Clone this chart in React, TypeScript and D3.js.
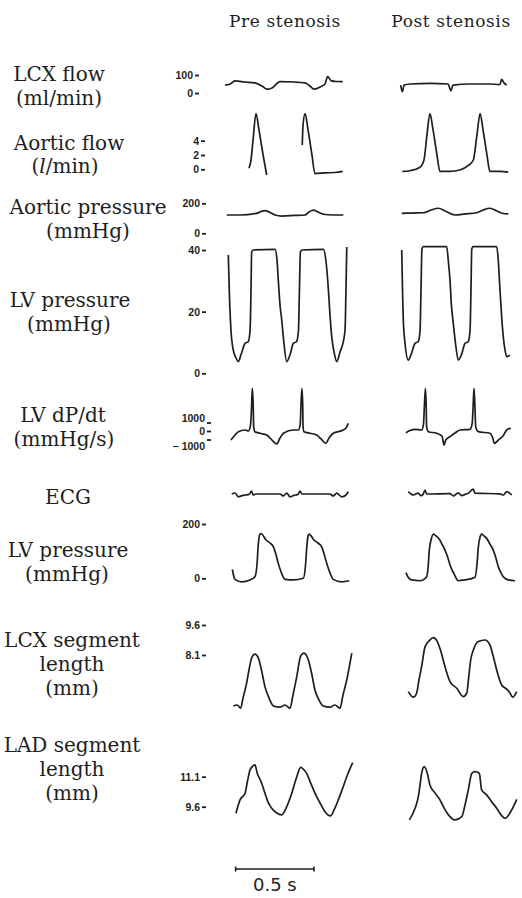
import React, { useEffect, useRef } from "react";
import * as d3 from "d3";

type Pt = [number, number];

// time (s) , value
const lcxFlowPre: Pt[] = [[0, 44], [0.026, 47], [0.064, 67], [0.128, 61], [0.191, 56], [0.236, 39], [0.268, 21], [0.3, 28], [0.351, 63], [0.447, 61], [0.511, 56], [0.542, 39], [0.568, 21], [0.606, 33], [0.638, 50], [0.655, 91], [0.677, 69], [0.708, 64], [0.751, 63]];
const lcxFlowPost: Pt[] = [[0.004, 44], [0.015, 7], [0.026, 44], [0.064, 50], [0.191, 53], [0.306, 50], [0.325, 13], [0.338, 44], [0.447, 50], [0.574, 50], [0.638, 47], [0.649, 76], [0.664, 56], [0.681, 44]];
const lcxFlowTicks = [0, 100];

const aoFlowPre: Pt[] = [[0.153, 0.14], [0.166, 1.3], [0.179, 4.1], [0.198, 7.8], [0.217, 5.5], [0.243, 2.0], [0.266, -0.8], [0.4, NaN], [0.493, 3.4], [0.498, 6.2], [0.511, 7.8], [0.53, 5.5], [0.555, 2.0], [0.574, -0.6], [0.638, -0.5], [0.702, -0.45], [0.751, -0.3]];
const aoFlowPost: Pt[] = [[0.015, -0.3], [0.064, -0.2], [0.128, 0.3], [0.153, 1.3], [0.172, 4.8], [0.191, 7.8], [0.211, 5.5], [0.236, 2.0], [0.255, -0.3], [0.319, -0.3], [0.383, -0.1], [0.434, 0.5], [0.468, 1.3], [0.491, 4.8], [0.511, 7.8], [0.53, 5.5], [0.555, 2.0], [0.574, -0.3], [0.638, -0.3], [0.691, -0.4]];
const aoFlowTicks = [0, 2, 4];

const aoPressPre: Pt[] = [[0.011, 122], [0.096, 122], [0.202, 133], [0.23, 145], [0.255, 151], [0.287, 139], [0.319, 122], [0.362, 115], [0.447, 119], [0.511, 122], [0.536, 142], [0.564, 155], [0.593, 142], [0.627, 127], [0.689, 122], [0.755, 122]];
const aoPressPost: Pt[] = [[0.011, 133], [0.077, 135], [0.149, 137], [0.198, 155], [0.245, 167], [0.287, 149], [0.351, 122], [0.415, 129], [0.489, 137], [0.53, 155], [0.574, 167], [0.619, 149], [0.657, 132], [0.691, 129]];
const aoPressTicks = [0, 200];

const lvpHiPre: Pt[] = [[0.021, 38.4], [0.029, 24], [0.038, 14], [0.053, 7.5], [0.07, 5], [0.085, 3.8], [0.102, 6.0], [0.128, 9.7], [0.149, 10.3], [0.16, 14.0], [0.166, 27.0], [0.17, 39.3], [0.179, 40.0], [0.319, 40.2], [0.332, 36.7], [0.34, 30.3], [0.351, 22.2], [0.362, 17.3], [0.373, 11.4], [0.394, 3.8], [0.415, 6.0], [0.436, 9.7], [0.457, 10.3], [0.469, 14.0], [0.475, 27.0], [0.481, 39.3], [0.491, 40.0], [0.628, 40.2], [0.645, 36.1], [0.66, 27.0], [0.67, 18.9], [0.681, 11.9], [0.696, 6.9], [0.713, 3.8], [0.734, 6.9], [0.755, 10.3], [0.766, 14.0], [0.772, 27.0], [0.777, 41.0]];
const lvpHiPost: Pt[] = [[0.011, 40.0], [0.016, 27.0], [0.021, 17.3], [0.032, 9.8], [0.053, 4.3], [0.07, 6.0], [0.096, 9.7], [0.117, 10.3], [0.128, 14.0], [0.134, 27.0], [0.14, 40.3], [0.149, 41.1], [0.298, 41.1], [0.309, 36.1], [0.319, 30.3], [0.328, 22.2], [0.34, 16.2], [0.354, 9.8], [0.372, 4.3], [0.392, 6.0], [0.415, 9.7], [0.436, 10.3], [0.447, 14.0], [0.453, 27.0], [0.458, 40.3], [0.466, 41.1], [0.617, 41.1], [0.628, 36.1], [0.638, 27.0], [0.648, 18.9], [0.659, 11.9], [0.67, 7.6], [0.681, 5.4], [0.702, 5.9]];
const lvpHiTicks = [0, 20, 40];

const dpdtPre: Pt[] = [[0.038, -1060], [0.064, -470], [0.085, -80], [0.128, 120], [0.149, 0], [0.163, 700], [0.17, 3060], [0.174, 5020], [0.18, 3060], [0.183, 510], [0.191, -80], [0.223, -270], [0.266, -470], [0.3, -1060], [0.33, -1530], [0.351, -820], [0.373, -270], [0.436, 120], [0.468, 120], [0.48, 820], [0.485, 3060], [0.491, 5020], [0.496, 3060], [0.498, 510], [0.504, -80], [0.543, -270], [0.585, -470], [0.613, -940], [0.643, -1450], [0.664, -820], [0.691, -270], [0.755, 120], [0.772, 350], [0.787, 900]];
const dpdtPost: Pt[] = [[0.038, -200], [0.064, 60], [0.096, 200], [0.138, 120], [0.15, 820], [0.156, 3060], [0.162, 5020], [0.167, 3060], [0.17, 510], [0.181, -80], [0.234, -270], [0.268, -590], [0.281, -1650], [0.292, -1060], [0.319, -670], [0.351, -240], [0.383, 120], [0.447, 200], [0.461, 940], [0.467, 3060], [0.472, 5020], [0.478, 3060], [0.483, 510], [0.5, -80], [0.574, -270], [0.59, -710], [0.602, -1450], [0.628, -1060], [0.657, -590], [0.681, 120], [0.708, 320]];
const dpdtTicks = [-1000, 0, 1000];

const ecgPre: Pt[] = [[0.043, 0], [0.064, 0.25], [0.085, -0.7], [0.109, -0.4], [0.128, -0.25], [0.153, -0.1], [0.17, 0.7], [0.179, -0.25], [0.198, 0], [0.351, 0], [0.373, -0.5], [0.394, 0.2], [0.415, -0.7], [0.447, -0.25], [0.466, -0.1], [0.479, 0.75], [0.491, 0], [0.67, 0], [0.691, -0.5], [0.713, 0.2], [0.745, -0.7], [0.772, -0.25], [0.787, 0.6]];
const ecgPost: Pt[] = [[0.053, 0.6], [0.085, -0.25], [0.117, 0.2], [0.134, -0.4], [0.147, -0.1], [0.16, 1.0], [0.17, 0], [0.319, 0.1], [0.34, -0.5], [0.372, 0.3], [0.394, -0.4], [0.421, 0], [0.436, 0.2], [0.468, 1.2], [0.479, 0.2], [0.638, 0.05], [0.66, -0.25], [0.681, 0.6], [0.713, -0.25]];

const lvpPre: Pt[] = [[0.047, 33], [0.054, 12], [0.064, -4], [0.107, -13], [0.16, -6], [0.191, 6], [0.204, 49], [0.213, 129], [0.223, 163], [0.23, 165], [0.262, 141], [0.287, 130], [0.309, 116], [0.326, 86], [0.34, 55], [0.358, 23], [0.383, -4], [0.436, -6], [0.5, 0], [0.514, 49], [0.522, 116], [0.53, 156], [0.536, 163], [0.568, 141], [0.593, 130], [0.617, 116], [0.632, 90], [0.649, 55], [0.67, 20], [0.691, -4], [0.745, -13], [0.793, -9]];
const lvpPost: Pt[] = [[0.038, 21], [0.051, 5], [0.075, -6], [0.128, -9], [0.17, 6], [0.179, 38], [0.187, 104], [0.198, 141], [0.213, 163], [0.23, 156], [0.251, 144], [0.268, 126], [0.287, 104], [0.306, 75], [0.319, 49], [0.345, 16], [0.372, -9], [0.415, -6], [0.479, 4], [0.491, 49], [0.5, 116], [0.511, 152], [0.521, 163], [0.536, 156], [0.553, 147], [0.574, 126], [0.595, 104], [0.612, 75], [0.627, 43], [0.644, 21], [0.659, 6], [0.691, -6], [0.734, -9]];
const lvpTicks = [0, 200];

const lcxLenPre: Pt[] = [[0.053, 5.55], [0.078, 5.6], [0.1, 5.44], [0.115, 5.95], [0.138, 6.69], [0.153, 7.35], [0.17, 7.95], [0.191, 8.14], [0.213, 7.94], [0.23, 7.45], [0.255, 6.52], [0.281, 5.95], [0.309, 5.55], [0.351, 5.49], [0.383, 5.6], [0.415, 5.44], [0.434, 6.1], [0.458, 7.02], [0.483, 8.05], [0.504, 8.19], [0.532, 7.85], [0.555, 7.1], [0.574, 6.35], [0.6, 5.85], [0.627, 5.55], [0.67, 5.49], [0.702, 5.6], [0.734, 5.44], [0.753, 6.1], [0.777, 6.85], [0.809, 8.19]];
const lcxLenPost: Pt[] = [[0.053, 6.27], [0.085, 5.99], [0.106, 6.19], [0.121, 6.85], [0.138, 7.52], [0.16, 8.52], [0.187, 8.82], [0.213, 8.97], [0.238, 8.77], [0.262, 8.25], [0.287, 7.52], [0.319, 6.77], [0.362, 6.44], [0.404, 6.02], [0.426, 6.19], [0.44, 7.1], [0.451, 7.85], [0.468, 8.35], [0.5, 8.77], [0.542, 8.85], [0.574, 8.6], [0.593, 8.1], [0.617, 7.35], [0.649, 6.6], [0.681, 6.39], [0.702, 6.2], [0.719, 5.99], [0.745, 6.27]];
const lcxLenTicks = [8.1, 9.6];

const ladLenPre: Pt[] = [[0.07, 9.27], [0.096, 9.94], [0.128, 10.27], [0.145, 10.94], [0.16, 11.44], [0.179, 11.64], [0.191, 11.69], [0.206, 11.27], [0.234, 10.77], [0.255, 10.27], [0.274, 9.84], [0.298, 9.52], [0.326, 9.31], [0.362, 9.19], [0.394, 9.6], [0.426, 10.27], [0.458, 11.1], [0.483, 11.57], [0.498, 11.49], [0.521, 11.27], [0.549, 10.74], [0.585, 10.1], [0.613, 9.69], [0.638, 9.35], [0.674, 9.14], [0.696, 9.44], [0.723, 9.94], [0.747, 10.44], [0.777, 11.1], [0.815, 11.8]];
const ladLenPost: Pt[] = [[0.06, 8.94], [0.096, 9.52], [0.117, 10.1], [0.128, 10.69], [0.138, 11.27], [0.155, 11.6], [0.174, 11.27], [0.191, 10.69], [0.223, 10.29], [0.255, 9.94], [0.281, 9.54], [0.309, 9.19], [0.351, 8.94], [0.394, 9.1], [0.415, 9.69], [0.436, 10.44], [0.458, 11.27], [0.479, 11.35], [0.506, 11.27], [0.521, 10.44], [0.553, 10.19], [0.581, 9.89], [0.617, 9.52], [0.645, 9.19], [0.67, 9.02], [0.713, 9.44], [0.745, 9.97]];
const ladLenTicks = [9.6, 11.1];

const columnTitles = ["Pre stenosis", "Post stenosis"];
const scaleBarSeconds = 0.5;

const INK = "#1e1e1e";

const rows = [
  { label: ["LCX flow", "(ml/min)"], lx: [59, 59], ly: 81, lh: 23.5, domain: [0, 100], range: [93, 75], ticks: lcxFlowTicks, pre: lcxFlowPre, post: lcxFlowPost, axisX: 199 },
  { label: ["Aortic flow", "(l/min)"], lx: [69, 65], ly: 149.5, lh: 23, domain: [0, 4], range: [169.3, 140.7], ticks: aoFlowTicks, pre: aoFlowPre, post: aoFlowPost, axisX: 205 },
  { label: ["Aortic pressure", "(mmHg)"], lx: [88, 88], ly: 214, lh: 24, domain: [0, 200], range: [233.3, 203.3], ticks: aoPressTicks, pre: aoPressPre, post: aoPressPost },
  { label: ["LV pressure", "(mmHg)"], lx: [70, 69], ly: 307, lh: 23.5, domain: [0, 40], range: [373.3, 250], ticks: lvpHiTicks, pre: lvpHiPre, post: lvpHiPost },
  { label: ["LV dP/dt", "(mmHg/s)"], lx: [63, 64], ly: 421.5, lh: 24.5, domain: [-1000, 1000], range: [439.5, 422.5], ticks: dpdtTicks, pre: dpdtPre, post: dpdtPost, axisX: 211 },
  { label: ["ECG"], lx: [68], ly: 504, lh: 24, domain: [-2, 2], range: [502, 486], ticks: [] as number[], pre: ecgPre, post: ecgPost },
  { label: ["LV pressure", "(mmHg)"], lx: [68, 67], ly: 556.5, lh: 24, domain: [0, 200], range: [578.3, 524], ticks: lvpTicks, pre: lvpPre, post: lvpPost },
  { label: ["LCX segment", "length", "(mm)"], lx: [72, 72, 72], ly: 647, lh: 24, domain: [8.1, 9.6], range: [655, 625], ticks: lcxLenTicks, pre: lcxLenPre, post: lcxLenPost },
  { label: ["LAD segment", "length", "(mm)"], lx: [72, 72, 72], ly: 752, lh: 24, domain: [9.6, 11.1], range: [806.7, 776.7], ticks: ladLenTicks, pre: ladLenPre, post: ladLenPost },
];

const fmt = (d: number) => (d < 0 ? "\u2212 " + Math.abs(d) : String(d));

export default function App() {
  const ref = useRef<SVGSVGElement>(null);

  useEffect(() => {
    const svg = d3.select(ref.current);
    svg.selectAll("*").remove();

    // 156.7 px per second in both panels
    const xPre = d3.scaleLinear().domain([0, 1]).range([225, 381.7]);
    const xPost = d3.scaleLinear().domain([0, 1]).range([400, 556.7]);

    // column headers
    svg.selectAll("text.title")
      .data(columnTitles)
      .enter()
      .append("text")
      .attr("class", "title")
      .attr("x", (d, i) => (i === 0 ? 285 : 451))
      .attr("y", 27)
      .attr("text-anchor", "middle")
      .style("font-family", "DejaVu Serif")
      .style("font-size", "17px")
      .style("letter-spacing", "0.6px")
      .attr("fill", INK)
      .text(d => d);

    rows.forEach(row => {
      const y = d3.scaleLinear().domain(row.domain).range(row.range);
      const g = svg.append("g");

      // left label
      row.label.forEach((line, i) => {
        const t = g.append("text")
          .attr("x", row.lx[i])
          .attr("y", row.ly + i * row.lh)
          .attr("text-anchor", "middle")
          .style("font-family", "DejaVu Serif")
          .style("font-size", "20px")
          .attr("fill", INK);
        if (line === "(l/min)") {
          t.append("tspan").text("(");
          t.append("tspan").style("font-style", "italic").text("l");
          t.append("tspan").text("/min)");
        } else {
          t.text(line);
        }
      });

      // axis
      if (row.ticks.length) {
        const ax = g.append("g")
          .attr("transform", `translate(${row.axisX ?? 206},0)`)
          .call(d3.axisLeft(y).tickValues(row.ticks).tickSize(4).tickPadding(2).tickFormat(d => fmt(+d)));
        ax.select(".domain").remove();
        ax.selectAll("line").attr("stroke", INK).attr("stroke-width", 1.8);
        ax.selectAll("text")
          .attr("fill", INK)
          .style("font-family", "Liberation Sans")
          .style("font-weight", "bold")
          .style("font-size", "10.5px");
        if (row.ticks === dpdtTicks) {
          ax.selectAll<SVGTextElement, number>("text")
            .attr("dy", d => (d > 0 ? "-0.1em" : d < 0 ? "0.95em" : "0.32em"));
        }
      }

      // traces
      const line = (x: d3.ScaleLinear<number, number>) =>
        d3.line<Pt>()
          .defined(d => !isNaN(d[1]))
          .x(d => x(d[0]))
          .y(d => y(d[1]))
          .curve(d3.curveMonotoneX);

      g.append("path").datum(row.pre)
        .attr("d", line(xPre))
        .attr("fill", "none").attr("stroke", INK)
        .attr("stroke-width", 1.7).attr("stroke-linejoin", "round");
      g.append("path").datum(row.post)
        .attr("d", line(xPost))
        .attr("fill", "none").attr("stroke", INK)
        .attr("stroke-width", 1.7).attr("stroke-linejoin", "round");
    });

    // time scale bar
    const t0 = 0.068;
    const x1 = xPre(t0), x2 = xPre(t0 + scaleBarSeconds);
    const bar = svg.append("g").attr("stroke", INK).attr("stroke-width", 1.6);
    bar.append("line").attr("x1", x1).attr("x2", x2).attr("y1", 869).attr("y2", 869);
    bar.append("line").attr("x1", x1).attr("x2", x1).attr("y1", 866.5).attr("y2", 871.5);
    bar.append("line").attr("x1", x2).attr("x2", x2).attr("y1", 866.5).attr("y2", 871.5);
    svg.append("text")
      .attr("x", (x1 + x2) / 2)
      .attr("y", 891)
      .attr("text-anchor", "middle")
      .style("font-family", "DejaVu Sans")
      .style("font-size", "18px")
      .attr("fill", INK)
      .text(scaleBarSeconds + " s");
  }, []);

  return (
    <svg
      ref={ref}
      width={522}
      height={898}
      style={{ position: "absolute", left: 0, top: 0, background: "#fff" }}
    />
  );
}
